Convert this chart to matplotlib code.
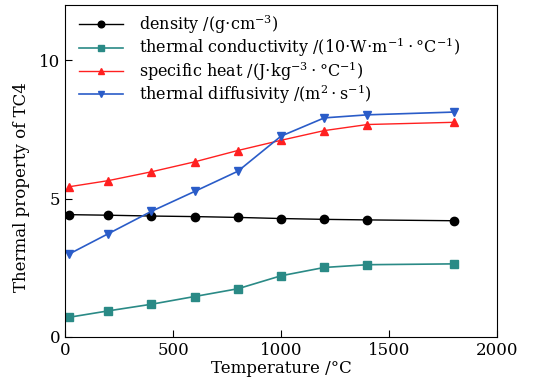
import numpy as np
import matplotlib
matplotlib.use('Agg')
import matplotlib.pyplot as plt

plt.rcParams['font.family'] = 'DejaVu Serif'
plt.rcParams['mathtext.fontset'] = 'dejavuserif'

# Temperature points (°C)
temperature = [20, 200, 400, 600, 800, 1000, 1200, 1400, 1800]

# Property values
density = [4.42, 4.40, 4.37, 4.35, 4.32, 4.28, 4.25, 4.23, 4.20]
conductivity = [0.71, 0.94, 1.18, 1.46, 1.74, 2.21, 2.51, 2.61, 2.64]
specific_heat = [5.43, 5.65, 5.97, 6.33, 6.74, 7.11, 7.46, 7.68, 7.76]
diffusivity = [3.00, 3.73, 4.54, 5.26, 5.99, 7.26, 7.92, 8.03, 8.13]

labels = [
    r'density /(g$\cdot$cm$^{-3}$)',
    r'thermal conductivity /(10$\cdot$W$\cdot$m$^{-1}\cdot$°C$^{-1}$)',
    r'specific heat /(J$\cdot$kg$^{-3}\cdot$°C$^{-1}$)',
    r'thermal diffusivity /(m$^{2}\cdot$s$^{-1}$)',
]

fig = plt.figure(figsize=(5.53, 3.89), dpi=100)
ax = fig.add_axes([0.1175, 0.134, 0.7815, 0.853])

ax.plot(temperature, density, '-o', color='black', ms=6, lw=1, label=labels[0])
ax.plot(temperature, conductivity, '-s', color='#2a8a86', ms=6, lw=1.2, label=labels[1])
ax.plot(temperature, specific_heat, '-^', color='#ff2020', ms=6, lw=1, label=labels[2])
ax.plot(temperature, diffusivity, '-v', color='#2a5cc8', ms=6, lw=1.2, label=labels[3])

ax.set_xlim(0, 2000)
ax.set_ylim(0, 12)
ax.set_xticks([0, 500, 1000, 1500, 2000])
ax.set_yticks([0, 5, 10])
ax.tick_params(direction='in', length=5, labelsize=12)
ax.set_xlabel('Temperature /°C', fontsize=12, labelpad=1)
ax.set_ylabel('Thermal property of TC4', fontsize=12)
ax.yaxis.set_label_coords(-0.08, 0.45)

ax.legend(loc='upper left', bbox_to_anchor=(0.015, 1.0), frameon=False,
          fontsize=11.5, handlelength=2.7, borderaxespad=0.2, borderpad=0.3,
          labelspacing=0.0, handletextpad=1.0, markerscale=0.8)

fig.savefig('out.png', dpi=100)
